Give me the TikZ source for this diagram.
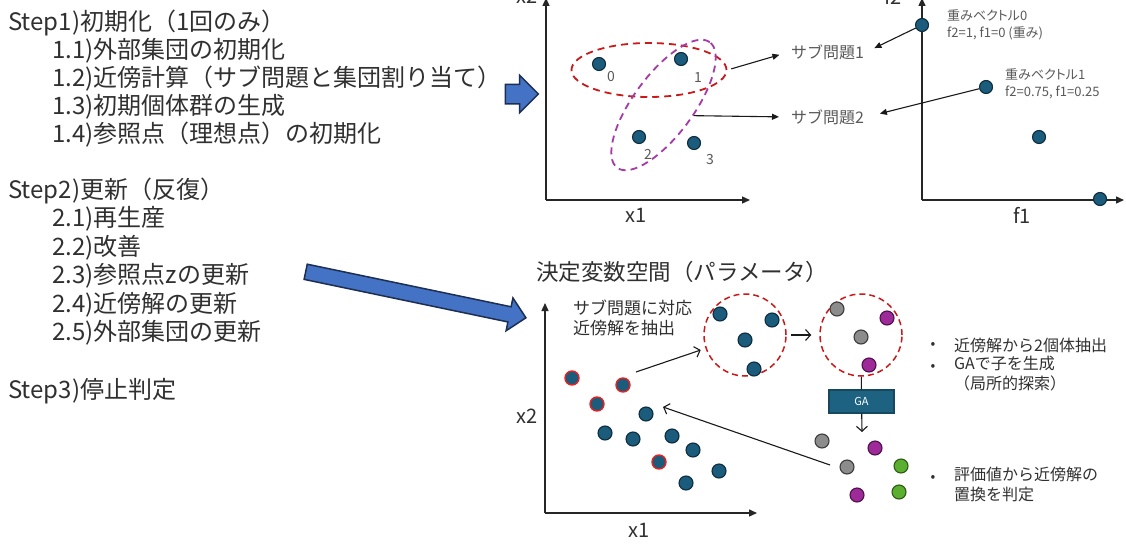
\documentclass[tikz,border=0pt]{standalone}
\usepackage{fontspec}
\setmainfont{Noto Sans CJK JP}
\newfontfamily\pfont[RawFeature=+palt]{Noto Sans CJK JP}
\usetikzlibrary{arrows.meta,shapes.arrows,shapes.geometric}
\definecolor{txt}{HTML}{303030}
\definecolor{lbl}{HTML}{595959}
\definecolor{teal0}{HTML}{1B5B7B}
\definecolor{tealb}{HTML}{0E2C3C}
\definecolor{rdb}{HTML}{E42222}
\definecolor{redd}{HTML}{C81A1A}
\definecolor{purp}{HTML}{A63AA6}
\definecolor{gry}{HTML}{8C8C8C}
\definecolor{gryb}{HTML}{3C3C3C}
\definecolor{mag}{HTML}{9E2A9A}
\definecolor{magb}{HTML}{4A1246}
\definecolor{grn}{HTML}{5BAE2F}
\definecolor{grnb}{HTML}{2C5A14}
\definecolor{blu}{HTML}{4472C4}
\definecolor{navy}{HTML}{1C2F52}
\definecolor{gafill}{HTML}{1E6282}
\definecolor{gadraw}{HTML}{164860}
\begin{document}
\begin{tikzpicture}[x=1pt,y=-1pt,
  lt/.style={anchor=west,inner sep=0pt,text=txt,font=\fontsize{24}{24}\selectfont},
  axis/.style={line width=1.4pt,draw=black!85,-{Triangle[length=8pt,width=7pt]}},
  axlbl/.style={inner sep=0pt,text=txt,font=\fontsize{20}{20}\selectfont},
  dot/.style={circle,draw=tealb,line width=1.1pt,fill=teal0,minimum size=13pt,inner sep=0pt},
  bdot/.style={dot,minimum size=14pt},
  rdot/.style={bdot,draw=rdb,line width=1.4pt},
  gdot/.style={bdot,fill=gry,draw=gryb},
  mdot/.style={bdot,fill=mag,draw=magb},
  ndot/.style={bdot,fill=grn,draw=grnb},
  num/.style={inner sep=0pt,text=lbl,font=\fontsize{14}{14}\selectfont},
  sublbl/.style={anchor=west,inner sep=2pt,text=lbl,font=\fontsize{16}{16}\selectfont},
  wlbl/.style={anchor=west,inner sep=0pt,text=lbl,font=\pfont\fontsize{13}{13}\selectfont},
  conn/.style={line width=1.1pt,draw=black!90,-{Triangle[length=7pt,width=6pt]}},
  oconn/.style={line width=1.1pt,draw=black!90,-{Straight Barb[length=5pt,width=11pt]}},
  blockarrow/.style={single arrow,draw=navy,fill=blu,line width=1.5pt,inner xsep=0pt,single arrow head extend=9pt},
  ring/.style={circle,draw=redd,line width=1.5pt,dash pattern=on 6pt off 4pt,minimum size=82pt,inner sep=0pt},
  btxt/.style={anchor=west,inner sep=0pt,text=txt,align=left,font=\fontsize{16}{20}\selectfont},
  bul/.style={inner sep=0pt,text=txt,font=\fontsize{14}{14}\selectfont}
]
\useasboundingbox (0,0) rectangle (1126,543);
\fill[white] (0,0) rectangle (1126,543);

% ---------- left text ----------
\node[lt] (s1)  at (8,23)   {Step1)初期化（1回のみ）};
\node[lt] (s11) at (52,51)  {1.1)外部集団の初期化};
\node[lt] (s12) at (52,79)  {1.2)近傍計算（サブ問題と集団割り当て）};
\node[lt] (s13) at (52,107) {1.3)初期個体群の生成};
\node[lt] (s14) at (52,135) {1.4)参照点（理想点）の初期化};
\node[lt] (s2)  at (8,191)  {Step2)更新（反復）};
\node[lt] (s21) at (52,219) {2.1)再生産};
\node[lt] (s22) at (52,248) {2.2)改善};
\node[lt] (s23) at (52,276) {2.3)参照点zの更新};
\node[lt] (s24) at (52,305) {2.4)近傍解の更新};
\node[lt] (s25) at (52,333) {2.5)外部集団の更新};
\node[lt] (s3)  at (8,391)  {Step3)停止判定};

% ---------- block arrows ----------
\node[blockarrow,minimum height=33pt,inner ysep=9pt] (ba1) at (517,94) {};
\node[blockarrow,rotate=-11.8,minimum height=225pt,inner ysep=7pt] (ba2) at (412,294) {};

% ---------- top middle plot ----------
\coordinate (o1) at (546,200);
\coordinate (o1y) at (546,-2);
\coordinate (o1x) at (750,200);
\draw[axis] (o1) -- (o1y);
\draw[axis] (o1) -- (o1x);
\node[axlbl] (lx2a) at (527,-4) {x2};
\node[axlbl] (lx1a) at (636,215) {x1};

\node[dot] (d0) at (599,64) {};
\node[dot] (d1) at (681,59) {};
\node[dot] (d2) at (639,137) {};
\node[dot] (d3) at (694,143) {};
\node[num] (n0) at (611,77) {0};
\node[num] (n1) at (698,78) {1};
\node[num] (n2) at (648,154) {2};
\node[num] (n3) at (710,160) {3};

\node[ellipse,draw=redd,line width=1.8pt,dash pattern=on 7pt off 5pt,minimum width=155pt,minimum height=54pt,inner sep=0pt] (e1) at (649,70) {};
\node[ellipse,draw=purp,line width=1.8pt,dash pattern=on 7pt off 5pt,minimum width=156pt,minimum height=60pt,inner sep=0pt,rotate=53.6] (e2) at (663.5,105) {};

\node[sublbl] (sub1) at (789,52) {サブ問題1};
\node[sublbl] (sub2) at (789,117) {サブ問題2};
\draw[conn,shorten <=4pt,shorten >=10pt] (e1.east) -- (sub1.west);
\draw[conn,shorten >=10pt] (e2.-73) -- (sub2.west);

% ---------- top right plot ----------
\coordinate (o2) at (922,200);
\coordinate (o2y) at (922,-2);
\coordinate (o2x) at (1124,200);
\draw[axis] (o2) -- (o2y);
\draw[axis] (o2) -- (o2x);
\node[axlbl] (lf2) at (893,-4) {f2};
\node[axlbl] (lf1) at (1022,215) {f1};

\node[dot] (w0) at (922,25) {};
\node[dot] (w1) at (986,87) {};
\node[dot] (w2) at (1039,137) {};
\node[dot] (w3) at (1100,199) {};

\node[wlbl] (wl0a) at (947,15) {重みベクトル0};
\node[wlbl] (wl0b) at (947,33) {f2=1, f1=0 (重み)};
\node[wlbl] (wl1a) at (1005,74) {重みベクトル1};
\node[wlbl] (wl1b) at (1005,92) {f2=0.75, f1=0.25};

\draw[conn,shorten >=9pt] (w0) -- (sub1.east);
\draw[conn,shorten >=14pt] (w1) -- (sub2.east);

% ---------- bottom plot ----------
\node[anchor=west,inner sep=0pt,text=txt,font=\fontsize{22.5}{22.5}\selectfont] (title) at (536,272) {決定変数空間（パラメータ）};
\coordinate (o3) at (545,513);
\coordinate (o3y) at (545,303);
\coordinate (o3x) at (757,513);
\draw[axis] (o3) -- (o3y);
\draw[axis] (o3) -- (o3x);
\node[axlbl] (lx2b) at (527,416) {x2};
\node[axlbl] (lx1b) at (639,530) {x1};

\node[rdot] (r1) at (572,378) {};
\node[rdot] (r2) at (623,385) {};
\node[rdot] (r3) at (597,404) {};
\node[rdot] (r4) at (659,462) {};
\node[bdot] (b1) at (646,414) {};
\node[bdot] (b2) at (605,433) {};
\node[bdot] (b3) at (633,439) {};
\node[bdot] (b4) at (672,436) {};
\node[bdot] (b5) at (693,450) {};
\node[bdot] (b6) at (719,471) {};
\node[bdot] (b7) at (686,483) {};

\node[anchor=west,inner sep=0pt,text=txt,align=left,font=\fontsize{17}{20}\selectfont] (extract) at (573,318) {サブ問題に対応\\近傍解を抽出};

\node[ring] (c1) at (745,335) {};
\node[bdot] (c1a) at (720,314) {};
\node[bdot] (c1b) at (772,320) {};
\node[bdot] (c1c) at (745,340) {};
\node[bdot] (c1d) at (754,369) {};

\node[ring] (c2) at (861,335) {};
\node[gdot] (c2a) at (837,309) {};
\node[mdot] (c2b) at (887,318) {};
\node[gdot] (c2c) at (861,337) {};
\node[mdot] (c2d) at (869,365) {};

\node[draw=gadraw,fill=gafill,line width=1.2pt,minimum width=65pt,minimum height=23pt,inner sep=0pt,text=white,font=\fontsize{11}{11}\selectfont] (ga) at (861.5,401.5) {GA};

\node[gdot] (k1) at (822,441) {};
\node[mdot] (k2) at (875,448) {};
\node[gdot] (k3) at (847,467) {};
\node[ndot] (k4) at (901,466) {};
\node[mdot] (k5) at (857,495) {};
\node[ndot] (k6) at (899,492) {};

\coordinate (pA) at (636,372);
\draw[oconn,shorten >=5pt] (pA) -- (c1);
\draw[oconn,shorten <=4pt,shorten >=8pt] (c1) -- (c2);
\draw[line width=1.1pt,draw=black!90] (c2) -- (ga);
\coordinate (kid) at (862,432);
\draw[oconn] (ga) -- (kid);
\coordinate (bA) at (830,465);
\coordinate (bB) at (663,407);
\draw[oconn] (bA) -- (bB);

% ---------- bullets ----------
\node[bul] (u1) at (933,345) {•};
\node[btxt] (t1) at (954,345) {近傍解から2個体抽出};
\node[bul] (u2) at (933,367) {•};
\node[btxt,anchor=north west] (t2) at (954,356) {GAで子を生成\\（局所的探索）};
\node[bul] (u3) at (933,478) {•};
\node[btxt,anchor=north west] (t3) at (954,467) {評価値から近傍解の\\置換を判定};
\end{tikzpicture}
\end{document}
